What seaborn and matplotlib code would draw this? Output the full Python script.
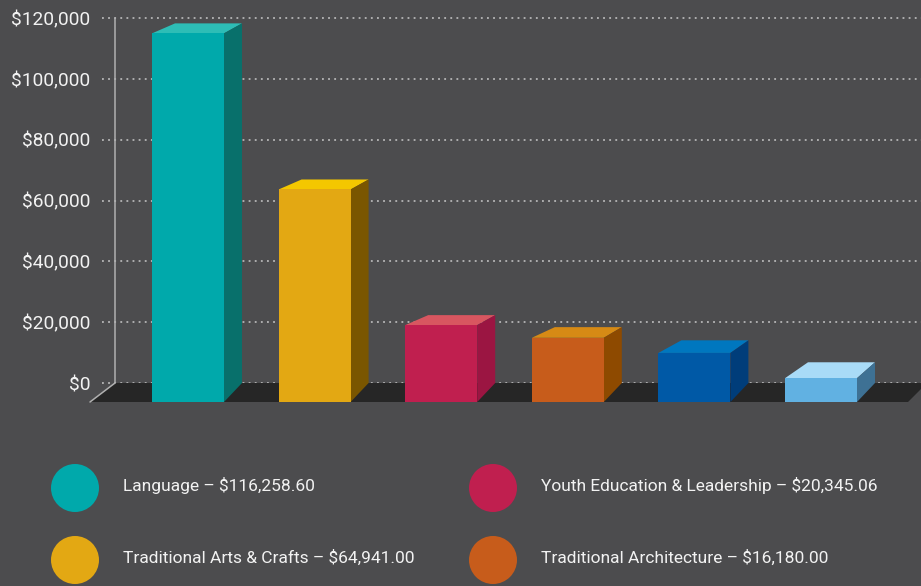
import matplotlib
matplotlib.use("Agg")
import matplotlib.pyplot as plt
import seaborn as sns
from matplotlib.patches import Circle, Polygon

# ---- data -------------------------------------------------------------
categories = [
    "Language",
    "Traditional Arts & Crafts",
    "Youth Education & Leadership",
    "Traditional Architecture",
    "Program 5",
    "Program 6",
]
values = [116258.60, 64941.00, 20345.06, 16180.00, 11200.00, 2900.00]

front_colors = ["#00a9ab", "#e3a813", "#c01f4f", "#c75c1b", "#0059a6", "#61b1e2"]
top_colors = ["#2dbdb6", "#f4c700", "#d85660", "#d68a15", "#0077bf", "#a9dbf7"]
side_colors = ["#08706b", "#7a5600", "#9b1542", "#8e4a00", "#003d7a", "#3e7194"]

y_ticks = [0, 20000, 40000, 60000, 80000, 100000, 120000]
y_tick_labels = ["$0", "$20,000", "$40,000", "$60,000", "$80,000", "$100,000", "$120,000"]

legend_count = 4

# ---- style ------------------------------------------------------------
BG = "#4c4c4e"
TEXT = "#f2f2f2"
W, H, DPI = 921, 586, 100

sns.set_theme(style="dark", rc={"axes.facecolor": BG, "figure.facecolor": BG})
plt.rcParams["font.family"] = ["Roboto", "DejaVu Sans"]

fig = plt.figure(figsize=(W / DPI, H / DPI), dpi=DPI)
fig.patch.set_facecolor(BG)

# axis geometry (pixels)
AX_LEFT_PX = 102
X0_PX, PX_X = 188.0, 126.6          # centre of first category, spacing
Y0_PX, PX_Y = 383.0, 365.0 / 120000  # baseline on the back wall, px per dollar

ax = fig.add_axes([AX_LEFT_PX / W, 0, (W - AX_LEFT_PX) / W, 1])
ax.set_facecolor(BG)

# 3D depth parameters in pixels
FLOOR_DEPTH = 19
FRONT_DROP = 4
DX_LEFT, DX_RIGHT = 23, 18


def px_x(p):
    return p / PX_X


def px_y(p):
    return p / PX_Y


floor_front = -px_y(FLOOR_DEPTH)

# front faces
sns.barplot(x=categories, y=values, hue=categories, palette=front_colors,
            saturation=1, width=72 / PX_X, legend=False, ax=ax,
            linewidth=0, zorder=4)

ax.set_xlim((AX_LEFT_PX - X0_PX) / PX_X, (W - X0_PX) / PX_X)
ax.set_ylim((Y0_PX - H) / PX_Y, Y0_PX / PX_Y)

# floor
fx = lambda p: (p - X0_PX) / PX_X
floor = Polygon([(fx(115), 0), (fx(927), 0), (fx(908), floor_front), (fx(90), floor_front)],
                closed=True, facecolor="#262626", edgecolor="none", zorder=1,
                clip_on=False)
ax.add_patch(floor)

# back wall edge and floor corner
ax.plot([fx(115), fx(115)], [0, 120000], color="#b0b0b0", lw=1.1, zorder=1.5)
ax.plot([fx(115), fx(90)], [0, floor_front], color="#b0b0b0", lw=1.1,
        zorder=1.5, clip_on=False)

for i, patch in enumerate(ax.patches[:len(values)]):
    v = values[i]
    xl = patch.get_x()
    xr = xl + patch.get_width()
    ft = v - px_y(FRONT_DROP)
    patch.set_y(floor_front)
    patch.set_height(ft - floor_front)
    patch.set_zorder(4)

    h = FLOOR_DEPTH - FRONT_DROP + v * PX_Y
    dy = max(10.0, FLOOR_DEPTH - 0.13 * h)
    bt = ft + px_y(dy)

    top = Polygon([(xl, ft), (xr, ft), (xr + px_x(DX_RIGHT), bt), (xl + px_x(DX_LEFT), bt)],
                  closed=True, facecolor=top_colors[i], edgecolor="none", zorder=3)
    side = Polygon([(xr, floor_front), (xr + px_x(DX_RIGHT), 0),
                    (xr + px_x(DX_RIGHT), bt), (xr, ft)],
                   closed=True, facecolor=side_colors[i], edgecolor="none", zorder=3)
    ax.add_patch(top)
    ax.add_patch(side)

# axes styling
ax.set_yticks(y_ticks)
ax.set_yticklabels(y_tick_labels)
ax.set_xticks([])
ax.set_xlabel("")
ax.set_ylabel("")
ax.tick_params(axis="y", length=0, pad=8.6, labelsize=13.8, labelcolor=TEXT)
ax.yaxis.grid(True, color="#c9c9c9", linestyle=(0, (1.2, 2.8)), linewidth=1.1)
ax.xaxis.grid(False)
ax.set_axisbelow(True)
for s in ax.spines.values():
    s.set_visible(False)

# legend
lax = fig.add_axes([0, 0, 1, 1])
lax.set_xlim(0, W)
lax.set_ylim(H, 0)
lax.axis("off")
col_x = [75, 493]
row_y = [488, 560]
for i in range(legend_count):
    cx = col_x[i // 2]
    cy = row_y[i % 2]
    lax.add_patch(Circle((cx, cy), 24, facecolor=front_colors[i], edgecolor="none"))
    lax.text(cx + 48, cy - 2, f"{categories[i]} \u2013 ${values[i]:,.2f}",
             color=TEXT, fontsize=12.5, va="center", ha="left")

fig.savefig("out.png", dpi=DPI, facecolor=BG)
